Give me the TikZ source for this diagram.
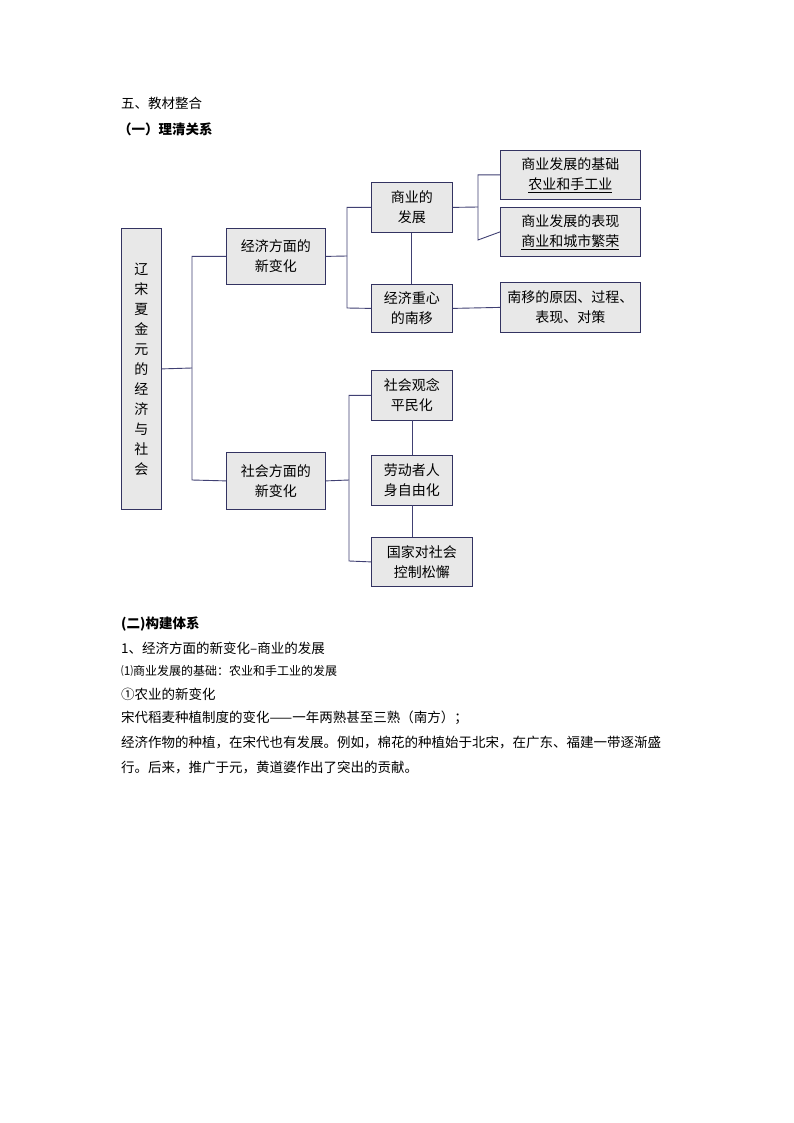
\documentclass[tikz,border=0pt]{standalone}
\usepackage{fontspec}
\setmainfont{Noto Sans CJK SC}
\begin{document}
\begin{tikzpicture}[x=1pt,y=-1pt,
  bx/.style={draw=black!70!blue!60!gray,line width=0.8pt,fill=black!9,inner sep=0pt,align=center,font=\fontsize{14}{20}\selectfont,anchor=north west},
  ln/.style={draw=black!60!blue!50!gray,line width=0.9pt},
  tx/.style={anchor=west,inner sep=0pt,font=\fontsize{13.5}{16}\selectfont}]
\useasboundingbox[fill=white] (0,0) rectangle (794,1123);
\newcommand{\bxx}[6]{\node[bx,minimum width=#4-#2,minimum height=#5-#3] (#1) at (#2,#3) {#6};}
\bxx{root}{121}{228}{161}{509}{辽\\宋\\夏\\金\\元\\的\\经\\济\\与\\社\\会}
\bxx{jj}{226}{228}{325}{284}{经济方面的\\新变化}
\bxx{sh}{226}{452}{325}{509}{社会方面的\\新变化}
\bxx{sy}{371}{182}{452}{232}{商业的\\发展}
\bxx{zx}{371}{284}{452}{332}{经济重心\\的南移}
\bxx{jc}{500}{150}{640}{199}{商业发展的基础\\\underline{农业和手工业}}
\bxx{bx}{500}{207}{640}{256}{商业发展的表现\\\underline{商业和城市繁荣}}
\bxx{nm}{500}{282}{640}{332}{南移的原因、过程、\\表现、对策}
\bxx{gn}{371}{370}{452}{420}{社会观念\\平民化}
\bxx{ld}{371}{455}{452}{505}{劳动者人\\身自由化}
\bxx{gj}{371}{537}{472}{586}{国家对社会\\控制松懈}
\draw[ln] (root.east) -- (192,368);
\draw[ln] (jj.west) -| (192,480) -- (sh.west);
\draw[ln] (jj.east) -- (347,256);
\draw[ln] (sy.west) -| (347,308) -- (zx.west);
\draw[ln] (sy.east) -- (478,207);
\draw[ln] (jc.west) -| (478,240) -- (bx.west);
\draw[ln] (sy.south) -- (zx.north);
\draw[ln] (zx.east) -- (nm.west);
\draw[ln] (sh.east) -- (349,480);
\draw[ln] (gn.west) -| (349,561) -- (gj.west);
\draw[ln] (412,420) -- (412,455);
\draw[ln] (412,505) -- (412,537);
\node[tx] (t1) at (121,103) {五、教材整合};
\node[tx,font=\fontsize{13.5}{16}\bfseries] (t2) at (118,129) {（一）理清关系};
\node[tx,font=\fontsize{13.5}{16}\bfseries] (t3) at (121,624) {(二)构建体系};
\node[tx] (t4) at (121,648) {1、经济方面的新变化--商业的发展};
\node[tx,font=\fontsize{12}{14}\selectfont] (t5) at (121,671) {⑴商业发展的基础：农业和手工业的发展};
\node[tx] (t6) at (121,694) {①农业的新变化};
\node[tx] (t7) at (121,718) {宋代稻麦种植制度的变化——一年两熟甚至三熟（南方）；};
\node[tx] (t8) at (121,743) {经济作物的种植，在宋代也有发展。例如，棉花的种植始于北宋，在广东、福建一带逐渐盛};
\node[tx] (t9) at (121,767) {行。后来，推广于元，黄道婆作出了突出的贡献。};
\end{tikzpicture}
\end{document}
